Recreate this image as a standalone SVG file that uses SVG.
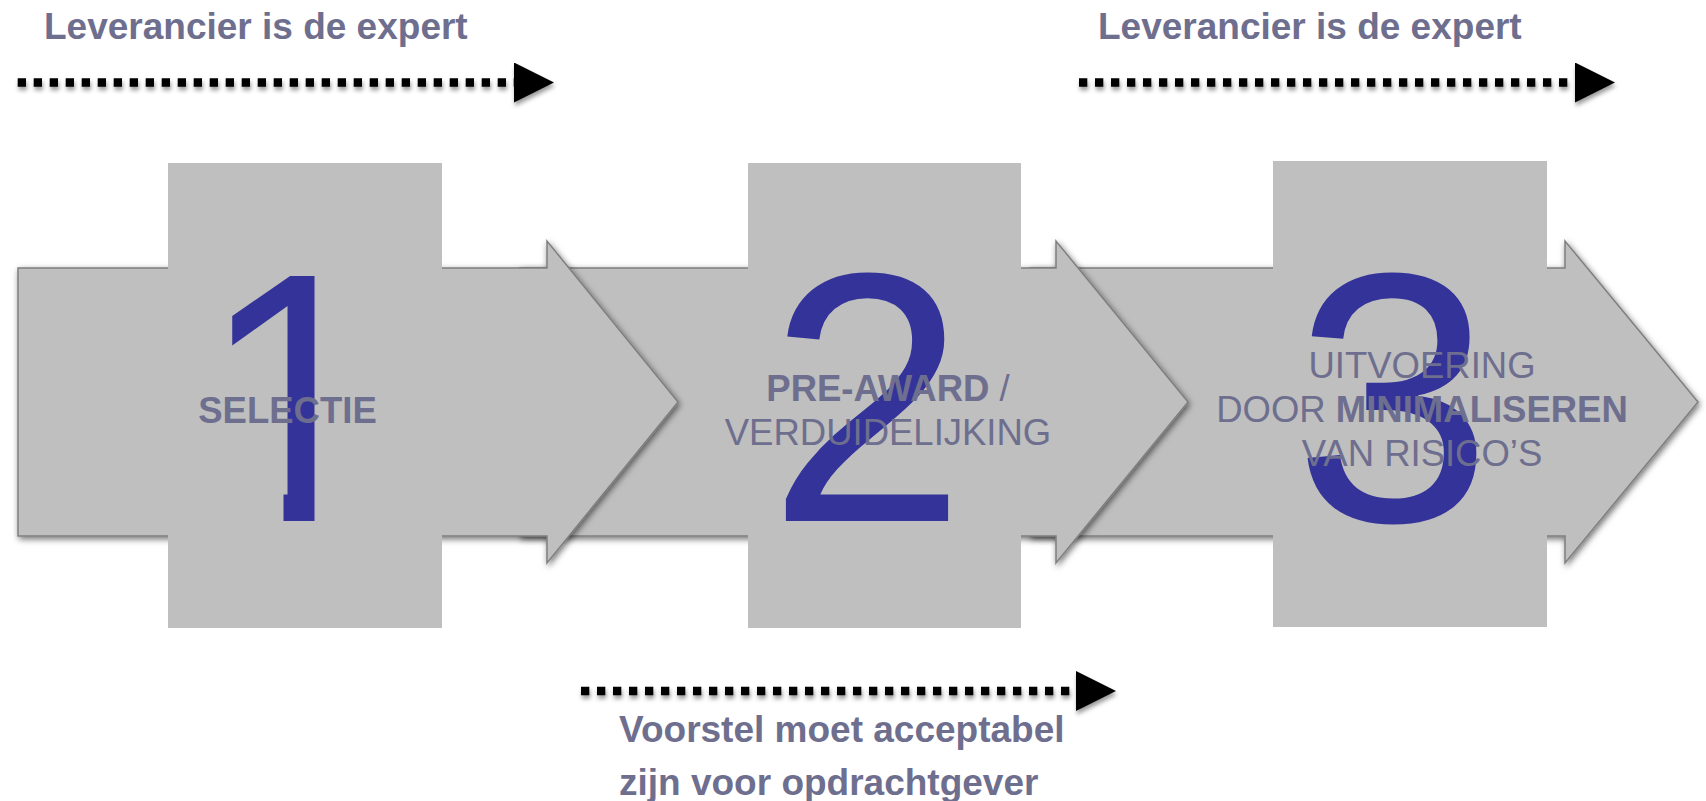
<svg xmlns="http://www.w3.org/2000/svg" width="1706" height="801" viewBox="0 0 1706 801">
  <style>
    .body { fill: #bfbfbf; stroke: #7f7f7f; stroke-width: 1.5; filter: url(#soft); }
    .block { fill: #bfbfbf; }
    .digit { font-family: "Liberation Sans", Arial, sans-serif; font-size: 356px; fill: #333399; text-anchor: middle; }
    .label { font-family: "Liberation Sans", Arial, sans-serif; font-size: 36.5px; fill: #6e6e8e; text-anchor: middle; }
    .note { font-family: "Liberation Sans", Arial, sans-serif; font-size: 37px; font-weight: bold; fill: #6e6e8e; }
    .b { font-weight: bold; }
    .dots { stroke: #000; stroke-width: 8.3; stroke-dasharray: 8.3 7.7; fill: none; marker-end: url(#head); }
  </style>
  <defs>
    <filter id="soft" x="-5%" y="-10%" width="110%" height="120%">
      <feDropShadow dx="1.5" dy="2.5" stdDeviation="3" flood-color="#000" flood-opacity="0.55"/>
    </filter>
    <filter id="dotshade" x="-5%" y="-100%" width="110%" height="300%">
      <feDropShadow dx="1" dy="3.5" stdDeviation="2" flood-color="#000" flood-opacity="0.4"/>
    </filter>
    <marker id="head" markerUnits="userSpaceOnUse" viewBox="0 0 40 40" markerWidth="40" markerHeight="40" refX="0" refY="20" orient="auto">
      <path d="M0,0 L40,20 L0,40 Z" fill="#000"/>
    </marker>
    <!-- plain stem for the numeral one: keeps the flag, trims the foot bar -->
    <clipPath id="plainone">
      <path d="M0,0 H314.5 V530 H283.5 V325 L200,374 H0 Z"/>
    </clipPath>
  </defs>

  <rect width="1706" height="801" fill="#ffffff"/>

  <!-- step 3: execution -->
  <g id="step3">
    <path class="body" d="M1030,268 H1565 V241 L1698,402 L1565,563 V536 H1030 Z"/>
    <rect class="block" x="1273" y="161" width="274" height="466"/>
    <text class="digit" x="1393" y="521">3</text>
    <text class="label" x="1422" y="378">UITVOERING</text>
    <text class="label" x="1422" y="422">DOOR <tspan class="b">MINIMALISEREN</tspan></text>
    <text class="label" x="1422" y="466">VAN RISICO’S</text>
  </g>

  <!-- step 2: pre-award -->
  <g id="step2">
    <path class="body" d="M520,268 H1056 V241 L1188,402 L1056,563 V536 H520 Z"/>
    <rect class="block" x="748" y="163" width="273" height="465"/>
    <text class="digit" x="867" y="521">2</text>
    <text class="label" x="888" y="401"><tspan class="b">PRE-AWARD</tspan> /</text>
    <text class="label" x="888" y="445">VERDUIDELIJKING</text>
  </g>

  <!-- step 1: selection -->
  <g id="step1">
    <path class="body" d="M18,268 H547 V241 L678,402 L547,563 V536 H18 Z"/>
    <rect class="block" x="168" y="163" width="274" height="465"/>
    <text class="digit" x="297" y="521" clip-path="url(#plainone)">1</text>
    <text class="label b" x="287.5" y="423">SELECTIE</text>
  </g>

  <!-- dotted timeline arrows -->
  <g id="connectors" filter="url(#dotshade)">
    <line class="dots" x1="17.7" y1="82.5" x2="514" y2="82.5"/>
    <line class="dots" x1="1079" y1="82.5" x2="1575" y2="82.5"/>
    <line class="dots" x1="581" y1="691" x2="1076" y2="691"/>
  </g>

  <g id="note-left">
    <text class="note" x="44" y="39">Leverancier is de expert</text>
  </g>
  <g id="note-right">
    <text class="note" x="1098" y="39">Leverancier is de expert</text>
  </g>
  <g id="note-bottom">
    <text class="note" x="619" y="742">Voorstel moet acceptabel</text>
    <text class="note" x="619" y="795">zijn voor opdrachtgever</text>
  </g>
</svg>
